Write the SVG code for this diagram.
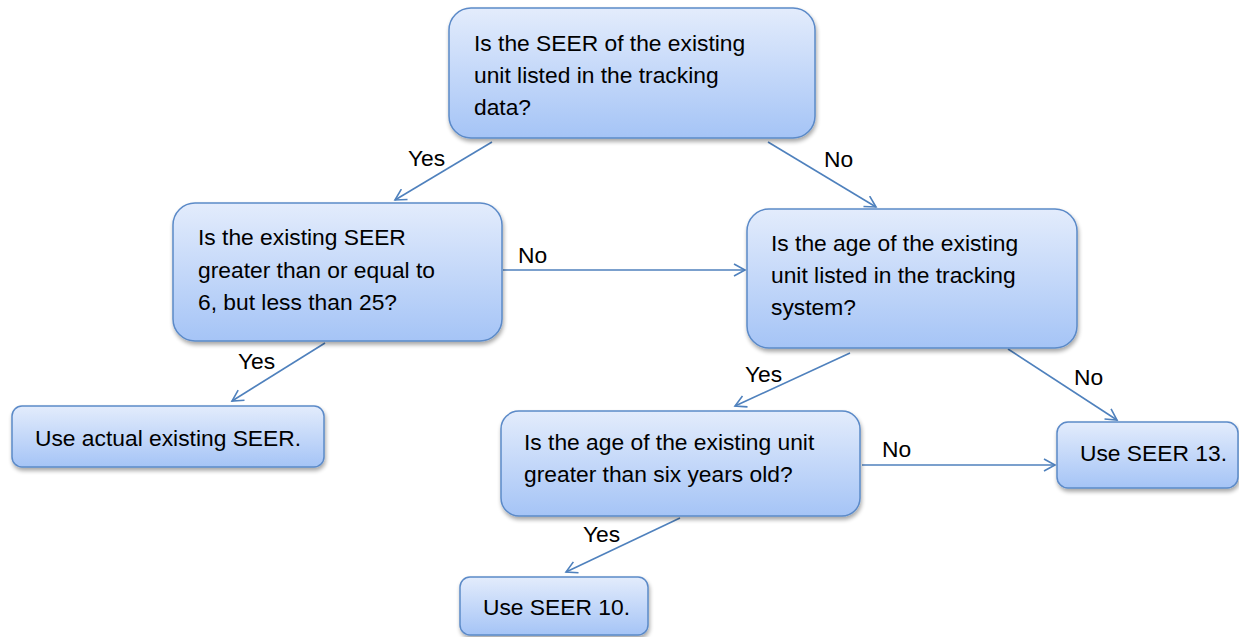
<svg xmlns="http://www.w3.org/2000/svg" width="1239" height="637" viewBox="0 0 1239 637">
<defs>
<linearGradient id="g" x1="0" y1="0" x2="0" y2="1">
<stop offset="0" stop-color="#e3ecfc"/>
<stop offset="1" stop-color="#a5c4f6"/>
</linearGradient>
<filter id="sh" x="-10%" y="-10%" width="125%" height="130%">
<feGaussianBlur in="SourceAlpha" stdDeviation="2"/>
<feOffset dx="1" dy="3" result="b"/>
<feComponentTransfer><feFuncA type="linear" slope="0.35"/></feComponentTransfer>
<feMerge><feMergeNode/><feMergeNode in="SourceGraphic"/></feMerge>
</filter>
<marker id="ah" markerWidth="14" markerHeight="14" refX="12" refY="7" orient="auto" markerUnits="userSpaceOnUse">
<path d="M1,1 L12,7 L1,13" fill="none" stroke="#4f81bd" stroke-width="1.6"/>
</marker>
</defs>
<style>
.box{fill:url(#g);stroke:#5b8ac8;stroke-width:1.5;filter:url(#sh)}
.t{font-family:"Liberation Sans",Arial,sans-serif;font-size:22.8px;fill:#000}
.c{stroke:#4f81bd;stroke-width:1.6;fill:none;marker-end:url(#ah)}
</style>
<rect width="1239" height="637" fill="#fff"/>
<g id="connectors">
<line class="c" x1="492" y1="142" x2="395" y2="200"/>
<line class="c" x1="768" y1="142" x2="876" y2="207"/>
<line class="c" x1="503" y1="270" x2="745" y2="270"/>
<line class="c" x1="325" y1="343" x2="232" y2="401"/>
<line class="c" x1="850" y1="353" x2="735" y2="406"/>
<line class="c" x1="1008" y1="349" x2="1117" y2="420"/>
<line class="c" x1="862" y1="465" x2="1055" y2="465"/>
<line class="c" x1="680" y1="518" x2="566" y2="572"/>
<text class="t" x="408" y="166">Yes</text>
<text class="t" x="824" y="167">No</text>
<text class="t" x="518" y="263">No</text>
<text class="t" x="238" y="369">Yes</text>
<text class="t" x="745" y="382">Yes</text>
<text class="t" x="1074" y="385">No</text>
<text class="t" x="882" y="457">No</text>
<text class="t" x="583" y="542">Yes</text>
</g>
<g id="n1">
<rect class="box" x="449" y="8" width="366" height="130" rx="22"/>
<text class="t" x="474" y="51">Is the SEER of the existing</text>
<text class="t" x="474" y="83">unit listed in the tracking</text>
<text class="t" x="474" y="115">data?</text>
</g>
<g id="n2">
<rect class="box" x="173" y="203" width="329" height="138" rx="22"/>
<text class="t" x="198" y="245">Is the existing SEER</text>
<text class="t" x="198" y="278">greater than or equal to</text>
<text class="t" x="198" y="310">6, but less than 25?</text>
</g>
<g id="n3">
<rect class="box" x="747" y="209" width="330" height="139" rx="22"/>
<text class="t" x="771" y="251">Is the age of the existing</text>
<text class="t" x="771" y="283">unit listed in the tracking</text>
<text class="t" x="771" y="315">system?</text>
</g>
<g id="n4">
<rect class="box" x="12" y="406" width="312" height="61" rx="10"/>
<text class="t" x="35" y="446">Use actual existing SEER.</text>
</g>
<g id="n5">
<rect class="box" x="501" y="411" width="359" height="105" rx="18"/>
<text class="t" x="524" y="450">Is the age of the existing unit</text>
<text class="t" x="524" y="482">greater than six years old?</text>
</g>
<g id="n6">
<rect class="box" x="1057" y="422" width="181" height="66" rx="11"/>
<text class="t" x="1080" y="461">Use SEER 13.</text>
</g>
<g id="n7">
<rect class="box" x="460" y="577" width="188" height="58" rx="10"/>
<text class="t" x="483" y="615">Use SEER 10.</text>
</g>
</svg>
